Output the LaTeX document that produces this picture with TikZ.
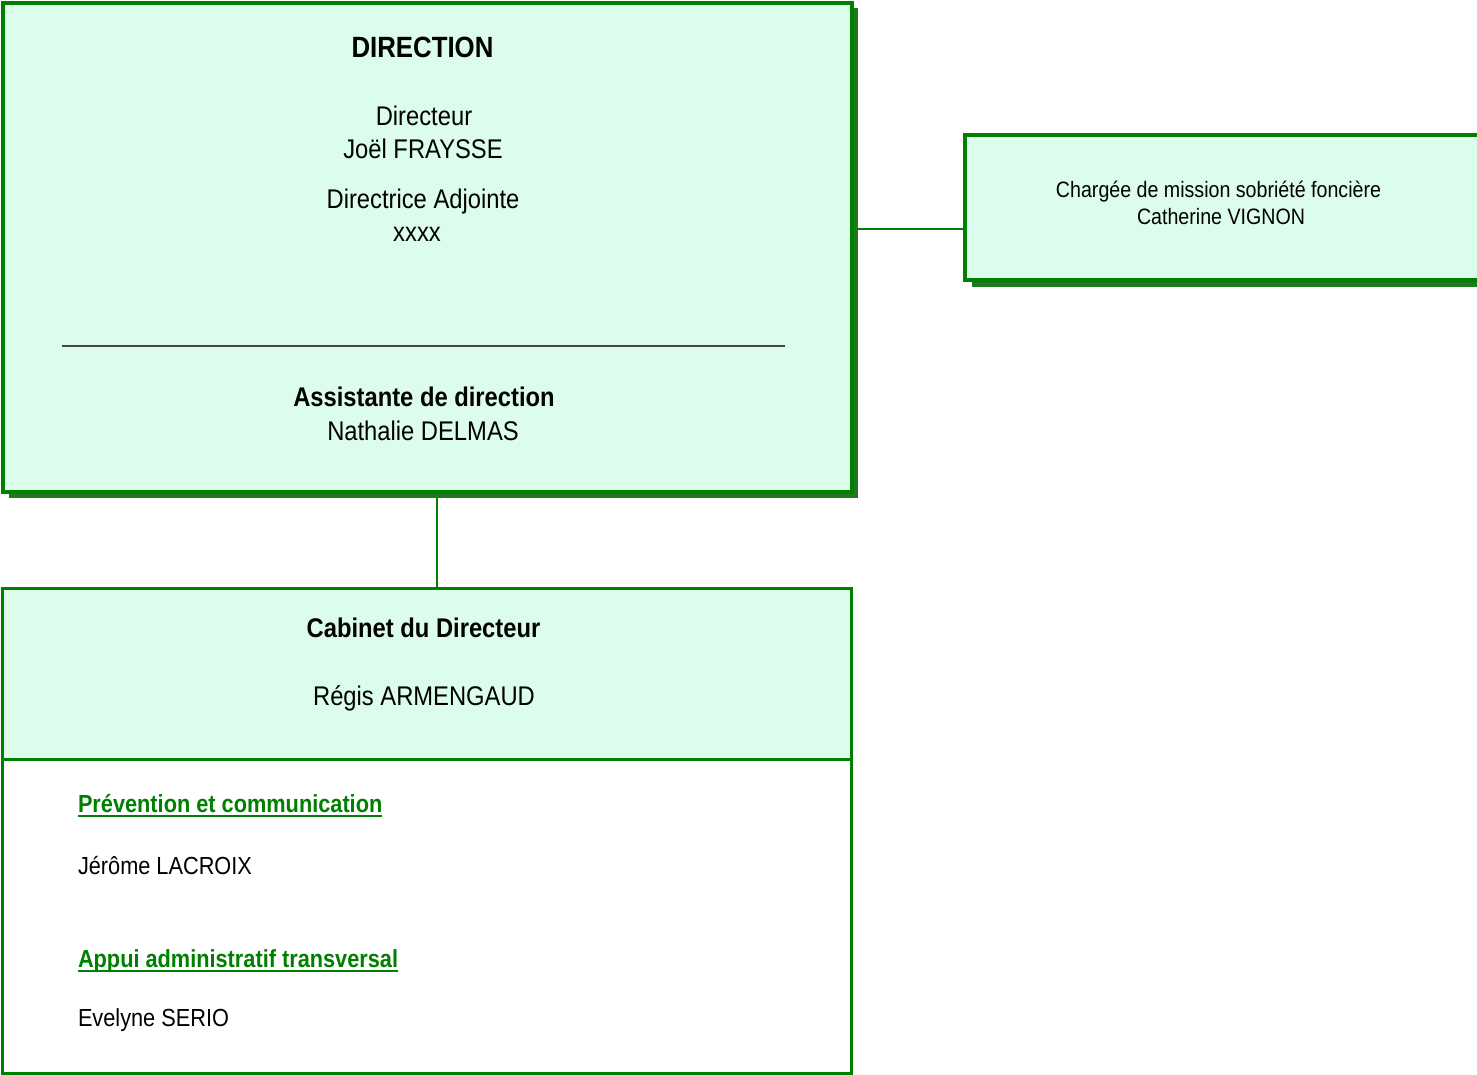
\documentclass[tikz,border=0pt]{standalone}
\usepackage{fontspec}
\setmainfont{Liberation Sans}[FakeStretch=0.88]
\usetikzlibrary{shadows}
\definecolor{bordergreen}{RGB}{0,128,0}
\definecolor{shadowgreen}{RGB}{30,122,30}
\definecolor{mint}{RGB}{220,252,236}
\definecolor{rulegray}{RGB}{64,72,64}
\pgfdeclarelayer{background}
\pgfsetlayers{background,main}
\newcommand{\fs}[1]{\fontsize{#1}{#1}\selectfont}
\tikzset{
  box/.style={draw=bordergreen, fill=mint, inner sep=0pt, outer sep=0pt},
  shadowed/.style={drop shadow={shadow xshift=#1, shadow yshift=-#1, fill=shadowgreen, opacity=1}},
  txt/.style={anchor=base, inner sep=0pt, outer sep=0pt, text=black},
  conn/.style={draw=bordergreen, line width=2pt},
}
\begin{document}
\begin{tikzpicture}[x=1pt,y=-1pt]
\useasboundingbox (0,0) rectangle (1477,1075);
% boxes
\node[box, line width=4pt, shadowed=5.5pt, minimum width=849pt, minimum height=489pt] (dir) at (427.5,247.5) {};
\node[box, line width=4pt, shadowed=7pt, minimum width=515pt, minimum height=145pt] (mission) at (1222.5,207.5) {};
\node[box, line width=3pt, minimum width=849pt, minimum height=170.5pt] (cabtop) at (427,673.75) {};
\node[box, fill=white, line width=3pt, minimum width=849pt, minimum height=314.5pt] (cabbot) at (427,916.25) {};
% connectors
\coordinate (vx) at (436.5,0);
\coordinate (hy) at (0,229.5);
\begin{pgfonlayer}{background}
\draw[conn] (dir.south -| vx) -- (cabtop.north -| vx);
\draw[conn] (dir.east |- hy) -- (mission.west |- hy);
\end{pgfonlayer}
% direction texts
\node[txt, font=\fs{29.3}\bfseries] (t1) at (422.5,57.3) {DIRECTION};
\node[txt, font=\fs{27}] (t2) at (424,126) {Directeur};
\node[txt, font=\fs{27}] (t3) at (423,159) {Joël FRAYSSE};
\node[txt, font=\fs{27}] (t4) at (423,208.3) {Directrice Adjointe};
\node[txt, font=\fs{27}] (t5) at (417,241.7) {xxxx};
\coordinate (r1) at (62,346);
\coordinate (r2) at (785,346);
\draw[rulegray, line width=1.3pt] (r1) -- (r2);
\node[txt, font=\fs{27}\bfseries] (t6) at (424,406.7) {Assistante de direction};
\node[txt, font=\fs{27}] (t7) at (423,440) {Nathalie DELMAS};
% mission texts
\node[txt, font=\fs{22.3}] (m1) at (1218.5,198) {Chargée de mission sobriété foncière};
\node[txt, font=\fs{22.3}] (m2) at (1221,225) {Catherine VIGNON};
% cabinet texts
\node[txt, font=\fs{27}\bfseries] (c1) at (423.5,637) {Cabinet du Directeur};
\node[txt, font=\fs{27}] (c2) at (424,705.7) {Régis ARMENGAUD};
\node[txt, anchor=base west, font=\fs{24.7}\bfseries, text=bordergreen] (p1) at (78,812.5) {Prévention et communication};
\node[txt, anchor=base west, font=\fs{24.7}] (p2) at (78,874) {Jérôme LACROIX};
\node[txt, anchor=base west, font=\fs{24.7}\bfseries, text=bordergreen] (a1) at (78,967) {Appui administratif transversal};
\node[txt, anchor=base west, font=\fs{24.7}] (a2) at (78,1026.7) {Evelyne SERIO};
\draw[bordergreen, line width=2.2pt] ([yshift=-3.8pt]p1.base west) -- ([yshift=-3.8pt]p1.base east);
\draw[bordergreen, line width=2.2pt] ([yshift=-3.8pt]a1.base west) -- ([yshift=-3.8pt]a1.base east);
\end{tikzpicture}
\end{document}
